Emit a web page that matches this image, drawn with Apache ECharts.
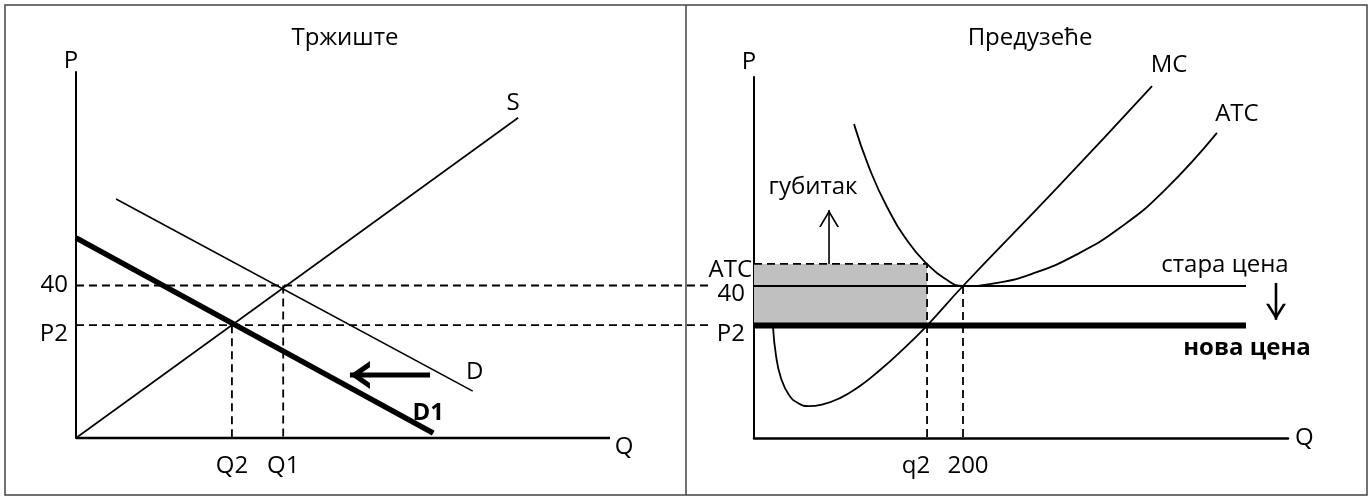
<!DOCTYPE html>
<html>
<head>
<meta charset="utf-8">
<title>Тржиште и предузеће</title>
<script src="https://cdn.jsdelivr.net/npm/echarts@6/dist/echarts.min.js"></script>
<style>
  html, body { margin: 0; padding: 0; background: #fff; }
  #main { width: 1372px; height: 497px; }
</style>
</head>
<body>
<div id="main"></div>
<script>
// ---- Тржиште (market) ----
var supplyS = [[0, 0], [82.8, 84]];
var demandD = [[7.5, 62.7], [74.3, 12.3]];
var demandD1 = [[0, 52.5], [66.9, 1.3]];
var oldPrice = 40, newPrice = 29.6;
var marketQ1 = 38.8, marketQ2 = 29.2;
var marketAxisEnd = 100;         // drawn Q axis length
var guideEnd = 119.1;            // price guides run on past the divider
var shiftArrow = [[66.3, 16.5], [51.3, 16.5]];
var marketYTicks = [newPrice, oldPrice], marketYText = ['{lo|P2}', '40'];
var marketXTicks = [marketQ2, marketQ1], marketXText = ['Q2', 'Q1'];

// ---- Предузеће (firm) ----
var mcCurve = [[18.2, 29.2], [21.1, 21.6], [25.8, 15.8], [33.5, 11.3], [42.1, 9.2], [51.7, 8.4],
  [65.1, 8.8], [82.3, 10.5], [101.4, 13.7], [120.6, 17.9], [139.7, 22.6], [165.6, 29.6],
  [200, 40], [290, 65.8], [380.9, 92.6]];
var atcCurve = [[95.7, 82.6], [110, 71.3], [127.3, 60.8], [148.3, 51.3], [165.6, 45.8], [181.8, 42.1],
  [200, 40], [232.5, 40.8], [266, 43.2], [308.1, 48.2], [351.2, 55.5], [393.3, 65.3], [443, 80.3]];
var firmQ = 200, firmQ2 = 165.6, atcAtQ2 = 45.8;
var priceLineEnd = 470.8;
var lossArrow = [[71.8, 45.8], [71.8, 60]];
var dropArrow = [[499.5, 40.8], [499.5, 31.1]];
var firmYTicks = [newPrice, oldPrice, atcAtQ2], firmYText = ['{lo|P2}', '{lo|40}', '{hi|ATC}'];
var firmXTicks = [firmQ2, firmQ], firmXText = ['{l|q2}', '{r|200}'];

var FONT = 'Open Sans';
var FS = 24;
var BLACK = '#000';

var chart = echarts.init(document.getElementById('main'));

function pick(values, texts) {
  return function (v) {
    var best = 0;
    for (var i = 1; i < values.length; i++) {
      if (Math.abs(values[i] - v) < Math.abs(values[best] - v)) best = i;
    }
    return texts[best];
  };
}

function seg(pts, gi, width, dashed, extra) {
  var s = {
    type: 'line', xAxisIndex: gi, yAxisIndex: gi, data: pts,
    showSymbol: false, symbol: 'none', clip: false, silent: true, z: 3,
    lineStyle: { color: BLACK, width: width, type: dashed ? [8, 5] : 'solid' }
  };
  for (var k in extra) s[k] = extra[k];
  return s;
}

function note(pt, text, dx, dy, bold) {
  return {
    symbol: 'circle', symbolSize: 1, silent: true,
    itemStyle: { color: 'rgba(0,0,0,0)' },
    label: {
      show: true, position: 'inside', offset: [dx, dy], formatter: '{b}',
      color: BLACK, fontFamily: FONT, fontSize: FS, fontWeight: bold ? 'bold' : 'normal'
    },
    data: [{ coord: pt, name: text }]
  };
}

// open chevron pointing up; k = arm width, t = inner tip depth (path units)
function chevron(k, t) {
  return 'path://M0,100 L50,0 L100,100 L' + (100 - k) + ',100 L50,' + t + ' L' + k + ',100 Z';
}

function head(pt, path, size, rot, off) {
  return {
    symbol: path, symbolSize: size, symbolRotate: rot, symbolOffset: off, silent: true,
    itemStyle: { color: BLACK }, label: { show: false },
    data: [{ coord: pt }]
  };
}

function axis(max, ticks, texts, name, opt) {
  return {
    type: 'value', min: 0, max: max, gridIndex: opt.gi,
    axisLine: { show: opt.lw > 0, onZero: false, lineStyle: { color: BLACK, width: opt.lw } },
    axisTick: { show: false },
    splitLine: { show: false },
    axisLabel: {
      customValues: ticks, formatter: pick(ticks, texts), margin: opt.margin,
      color: BLACK, fontFamily: FONT, fontSize: FS, rich: opt.rich || {}
    },
    name: name, nameLocation: 'end', nameGap: opt.nameGap,
    nameTextStyle: { color: BLACK, fontFamily: FONT, fontSize: FS, padding: opt.namePad || 0 }
  };
}

function rich(pad) {
  return { fontFamily: FONT, fontSize: FS, color: BLACK, padding: pad };
}

var option = {
  animation: false,
  backgroundColor: '#fff',
  grid: [
    { left: 76, top: 72, width: 636, height: 366, outerBoundsMode: 'none', containLabel: false },
    { left: 754, top: 77, width: 534, height: 361, outerBoundsMode: 'none', containLabel: false }
  ],
  xAxis: [
    axis(guideEnd, marketXTicks, marketXText, '', { gi: 0, lw: 0, margin: 16, nameGap: 0 }),
    axis(511, firmXTicks, firmXText, 'Q', { gi: 1, lw: 2.5, margin: 16, nameGap: 7,
      rich: { l: rich([0, 22, 0, 0]), r: rich([0, 0, 0, 10]) } })
  ],
  yAxis: [
    axis(96, marketYTicks, marketYText, 'P', { gi: 0, lw: 2, margin: 8, nameGap: -1,
      namePad: [0, 10, 0, 0], rich: { lo: rich([18, 0, 0, 0]) } }),
    axis(95, firmYTicks, firmYText, 'P', { gi: 1, lw: 2, margin: 2, nameGap: 3,
      namePad: [0, 10, 0, 0], rich: { lo: rich([17, 7, 0, 0]), hi: rich([12, 0, 0, 0]) } })
  ],
  graphic: [
    { type: 'rect', shape: { x: 5, y: 5, width: 1362, height: 490 },
      style: { fill: 'none', stroke: '#444', lineWidth: 1.5 }, z: 100 },
    { type: 'line', shape: { x1: 686, y1: 5, x2: 686, y2: 495 },
      style: { stroke: '#444', lineWidth: 1.5 }, z: 100 },
    { type: 'text', x: 345, y: 38,
      style: { text: 'Тржиште', fill: BLACK, font: FS + 'px "' + FONT + '"', align: 'center', verticalAlign: 'middle' } },
    { type: 'text', x: 1030, y: 38,
      style: { text: 'Предузеће', fill: BLACK, font: FS + 'px "' + FONT + '"', align: 'center', verticalAlign: 'middle' } }
  ],
  series: [
    // market panel
    seg([[0, 0], [marketAxisEnd, 0]], 0, 2.5, false, { markPoint: note([marketAxisEnd, 0], 'Q', 14, 9) }),
    seg([[0, oldPrice], [guideEnd, oldPrice]], 0, 1.8, true),
    seg([[0, newPrice], [guideEnd, newPrice]], 0, 1.8, true),
    seg([[marketQ1, oldPrice], [marketQ1, 0]], 0, 1.8, true),
    seg([[marketQ2, newPrice], [marketQ2, 0]], 0, 1.8, true),
    seg(supplyS, 0, 1.6, false, { markPoint: note(supplyS[1], 'S', -5, -15) }),
    seg(demandD, 0, 1.6, false, { markPoint: note(demandD[1], 'D', 2, -19) }),
    seg(demandD1, 0, 5.5, false, { markPoint: note(demandD1[1], 'D1', -5, -20, true) }),
    seg(shiftArrow, 0, 5, false, { markPoint: head(shiftArrow[1], chevron(22, 44), [28, 20], 90, [10, 0]) }),

    // firm panel
    seg([], 1, 0, false, {
      z: 1,
      markArea: {
        silent: true, itemStyle: { color: '#c0c0c0', opacity: 1 },
        data: [[{ coord: [0, atcAtQ2] }, { coord: [firmQ2, newPrice] }]]
      }
    }),
    seg([[0, atcAtQ2], [firmQ2, atcAtQ2], [firmQ2, 0]], 1, 1.8, true),
    seg([[firmQ, oldPrice], [firmQ, 0]], 1, 1.8, true),
    seg([[0, oldPrice], [priceLineEnd, oldPrice]], 1, 2,
      false, { markPoint: note([priceLineEnd, oldPrice], 'стара цена', -21, -21) }),
    seg([[0, newPrice], [priceLineEnd, newPrice]], 1, 6,
      false, { markPoint: note([priceLineEnd, newPrice], 'нова цена', 1, 23, true) }),
    seg(mcCurve, 1, 1.8, false, { smooth: 0.5,
      markPoint: note(mcCurve[mcCurve.length - 1], 'MC', 17, -21) }),
    seg(atcCurve, 1, 1.8, false, { smooth: 0.5,
      markPoint: note(atcCurve[atcCurve.length - 1], 'ATC', 20, -19) }),
    seg(lossArrow, 1, 1.6, false, { markPoint: head(lossArrow[1], chevron(9.3, 18.5), [20, 17], 0, [0, 8.5]) }),
    seg([lossArrow[1]], 1, 0, false, { markPoint: note(lossArrow[1], 'губитак', -16, -23) }),
    seg(dropArrow, 1, 2.6, false, { markPoint: head(dropArrow[1], chevron(15.3, 30.6), [20, 16], 180, [0, -8]) })
  ]
};

chart.setOption(option);
window.addEventListener('resize', chart.resize);
</script>
</body>
</html>
